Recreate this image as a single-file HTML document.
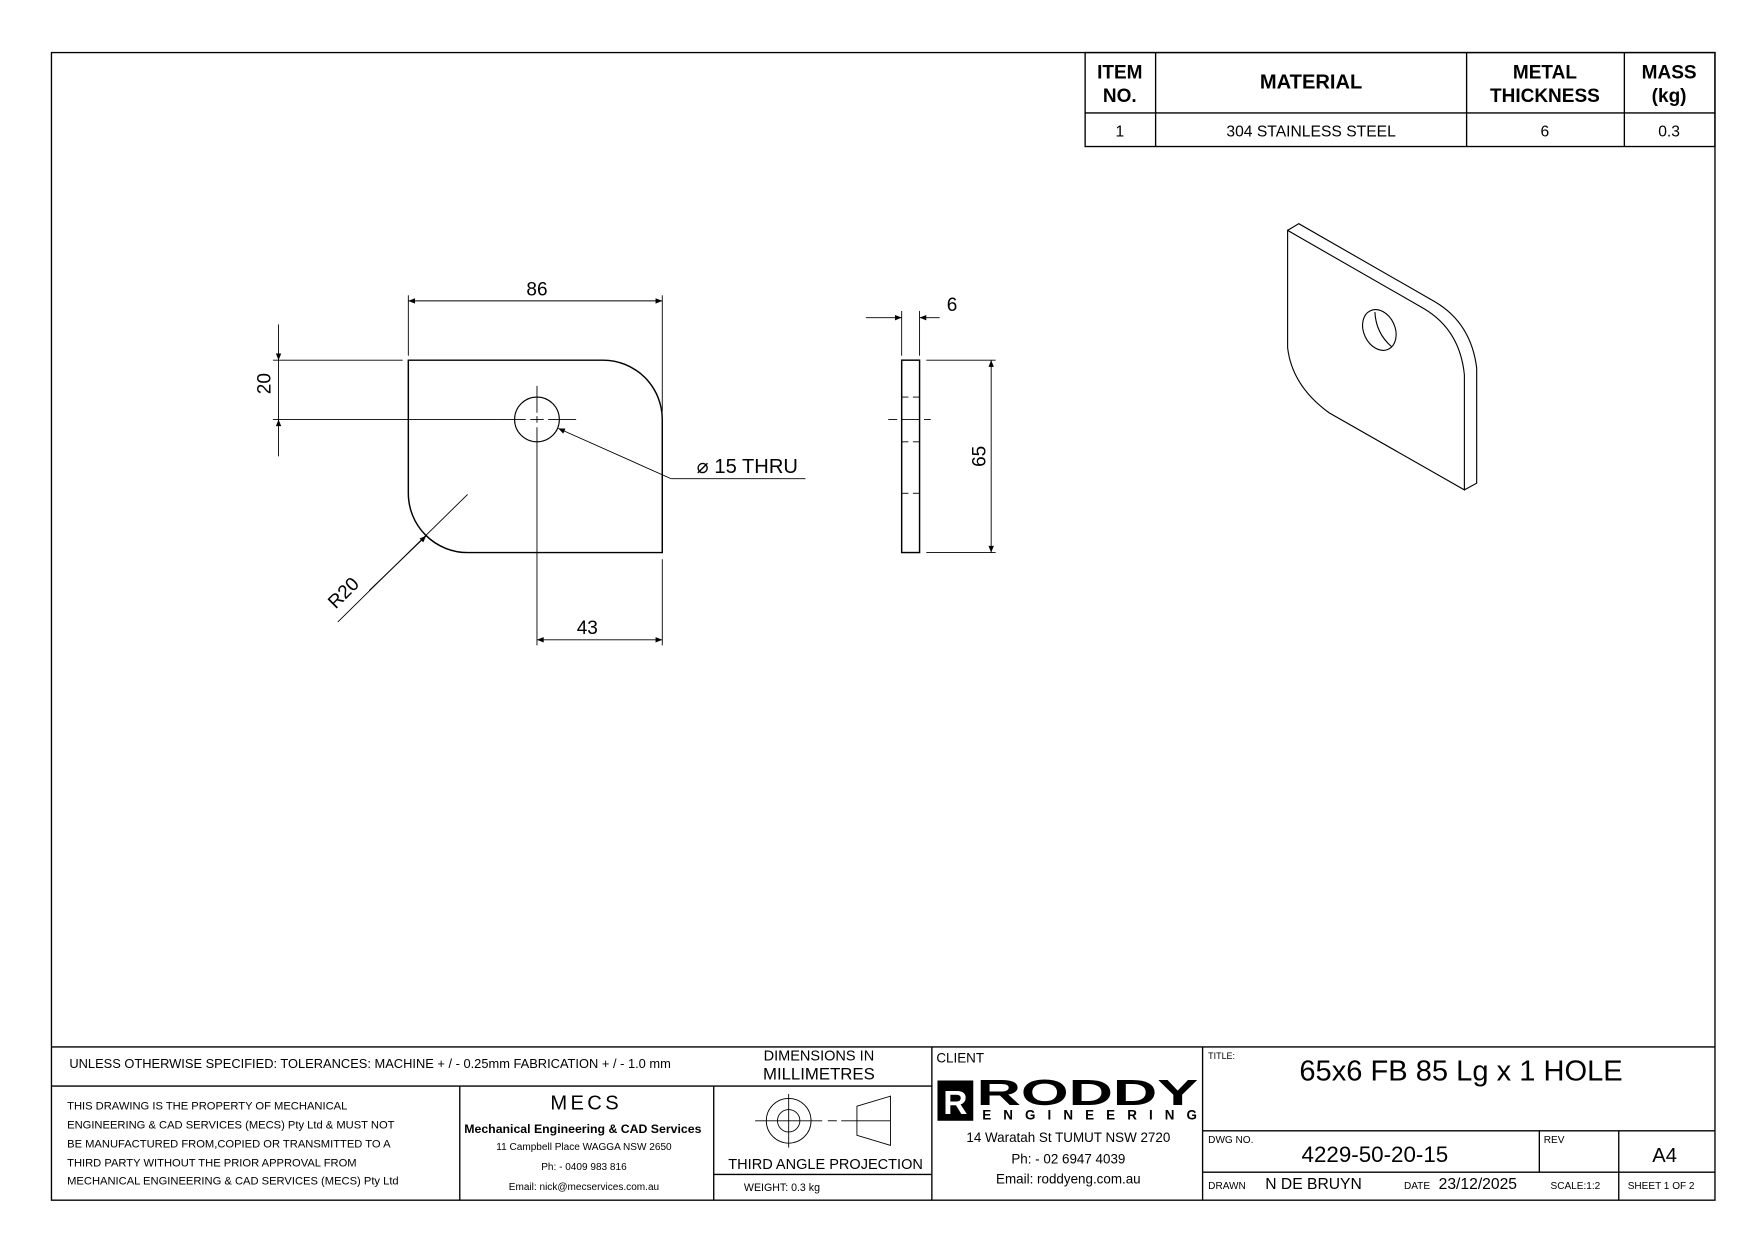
<!DOCTYPE html>
<html><head><meta charset="utf-8"><style>
html,body{margin:0;padding:0;background:#fff;}
svg{display:block;}
text{font-family:"Liberation Sans",sans-serif;fill:#000;}
</style></head><body>
<svg width="1753" height="1240" viewBox="0 0 1567 1108.6" preserveAspectRatio="none" xmlns="http://www.w3.org/2000/svg">
<defs>
<marker id="a" viewBox="0 0 10 10" refX="10" refY="5" markerWidth="12" markerHeight="6" orient="auto-start-reverse" markerUnits="userSpaceOnUse"><path d="M0,1 L10,5 L0,9 z" fill="#000"/></marker>
</defs>
<g fill="none" stroke="#000" stroke-width="1.2">
<rect x="46" y="47" width="1487" height="1026"/>
<rect x="970" y="47" width="563" height="84"/>
<line x1="970" y1="101" x2="1533" y2="101"/>
<line x1="1033" y1="47" x2="1033" y2="131"/>
<line x1="1311" y1="47" x2="1311" y2="131"/>
<line x1="1452" y1="47" x2="1452" y2="131"/>
<line x1="46" y1="936" x2="1533" y2="936"/>
<line x1="46" y1="971" x2="833" y2="971"/>
<line x1="411" y1="971" x2="411" y2="1073"/>
<line x1="638" y1="971" x2="638" y2="1073"/>
<line x1="833" y1="936" x2="833" y2="1073"/>
<line x1="1075" y1="936" x2="1075" y2="1073"/>
<line x1="638" y1="1050" x2="833" y2="1050"/>
<line x1="1075" y1="1011" x2="1533" y2="1011"/>
<line x1="1075" y1="1048" x2="1533" y2="1048"/>
<line x1="1376" y1="1011" x2="1376" y2="1048"/>
<line x1="1447" y1="1011" x2="1447" y2="1073"/>
<circle cx="705" cy="1002" r="20" stroke-width="0.8"/>
<circle cx="705" cy="1002" r="10" stroke-width="0.8"/>
<line x1="675" y1="1002" x2="735" y2="1002" stroke-width="0.8"/>
<line x1="705" y1="978" x2="705" y2="1026" stroke-width="0.8"/>
<line x1="740" y1="1002" x2="748" y2="1002" stroke-width="0.8"/>
<line x1="752" y1="1002" x2="796" y2="1002" stroke-width="0.8"/>
<path d="M766,989 L796,980 L796,1024 L766,1015 Z" stroke-width="0.8"/>
</g>
<g fill="none" stroke="#000" stroke-width="1">
<path d="M365,322 H539 A53,53 0 0 1 592,375 V494 H418 A53,53 0 0 1 365,441 Z" stroke-width="1.3"/>
<circle cx="480" cy="375" r="20"/>
<g stroke-width="0.8">
<line x1="445" y1="375" x2="470" y2="375"/><line x1="474" y1="375" x2="486" y2="375"/><line x1="490" y1="375" x2="515" y2="375"/>
<line x1="480" y1="345" x2="480" y2="369"/><line x1="480" y1="372" x2="480" y2="378"/><line x1="480" y1="382" x2="480" y2="577"/>
<line x1="365" y1="264" x2="365" y2="318"/>
<line x1="592" y1="264" x2="592" y2="368"/>
<line x1="365" y1="269" x2="592" y2="269" marker-start="url(#a)" marker-end="url(#a)"/>
<line x1="244" y1="322" x2="360" y2="322"/>
<line x1="244" y1="375" x2="445" y2="375"/>
<line x1="249" y1="290" x2="249" y2="322" marker-end="url(#a)"/>
<line x1="249" y1="408" x2="249" y2="375" marker-end="url(#a)"/>
<line x1="249" y1="322" x2="249" y2="375"/>
<line x1="720" y1="428" x2="600" y2="428"/>
<line x1="600" y1="428" x2="499" y2="383" marker-end="url(#a)"/>
<line x1="302" y1="556" x2="418" y2="442"/>
<line x1="330" y1="528" x2="381" y2="479" marker-end="url(#a)"/>
<line x1="592" y1="500" x2="592" y2="577"/>
<line x1="480" y1="572" x2="592" y2="572" marker-start="url(#a)" marker-end="url(#a)"/>
</g>
<rect x="806" y="322" width="16" height="172" stroke-width="1.3"/>
<g stroke-width="0.8">
<line x1="806" y1="355" x2="812" y2="355"/><line x1="816" y1="355" x2="822" y2="355"/>
<line x1="806" y1="395" x2="812" y2="395"/><line x1="816" y1="395" x2="822" y2="395"/>
<line x1="806" y1="441" x2="812" y2="441"/><line x1="816" y1="441" x2="822" y2="441"/>
<line x1="794" y1="375" x2="802" y2="375"/><line x1="806" y1="375" x2="822" y2="375"/><line x1="826" y1="375" x2="832" y2="375"/>
<line x1="806" y1="278" x2="806" y2="318"/><line x1="822" y1="278" x2="822" y2="318"/>
<line x1="774" y1="284" x2="806" y2="284" marker-end="url(#a)"/>
<line x1="840" y1="284" x2="822" y2="284" marker-end="url(#a)"/>
<line x1="828" y1="322" x2="890" y2="322"/><line x1="828" y1="494" x2="890" y2="494"/>
<line x1="886" y1="322" x2="886" y2="494" marker-start="url(#a)" marker-end="url(#a)"/>
</g>
<g stroke-width="1">
<path d="M1151,206 L1273,276 Q1305,295 1309,335 L1309,438 L1188,369 Q1155,345 1151,311 Z"/>
<path d="M1151,206 L1161,200 L1283,270 Q1315,289 1320,329 L1320,432 L1309,438"/>
<ellipse cx="1233" cy="295" rx="14" ry="19" transform="rotate(-25 1233 295)"/>
<path d="M1229,279 Q1230,298 1244,310"/>
</g>
</g>
<g font-size="14" text-anchor="middle">
<text x="1001" y="70" font-weight="bold" font-size="17">ITEM</text>
<text x="1001" y="91" font-weight="bold" font-size="17">NO.</text>
<text x="1172" y="79" font-weight="bold" font-size="18">MATERIAL</text>
<text x="1381" y="70" font-weight="bold" font-size="17">METAL</text>
<text x="1381" y="91" font-weight="bold" font-size="17">THICKNESS</text>
<text x="1492" y="70" font-weight="bold" font-size="17">MASS</text>
<text x="1492" y="91" font-weight="bold" font-size="17">(kg)</text>
<text x="1001" y="122">1</text>
<text x="1172" y="122">304 STAINLESS STEEL</text>
<text x="1381" y="122">6</text>
<text x="1492" y="122">0.3</text>
<text x="480" y="264" font-size="17">86</text>
<text x="851" y="278" font-size="17">6</text>
<text x="525" y="567" font-size="17">43</text>
<text x="668" y="423" font-size="18">⌀ 15 THRU</text>
<text transform="translate(242,343) rotate(-90)" font-size="17">20</text>
<text transform="translate(881,408) rotate(-90)" font-size="17">65</text>
<text transform="translate(311,534) rotate(-45)" font-size="17">R20</text>
</g>
<g font-size="11">
<text x="62" y="955" font-size="11.5">UNLESS OTHERWISE SPECIFIED: TOLERANCES: MACHINE + / - 0.25mm  FABRICATION + / - 1.0 mm</text>
<text x="60" y="992" font-size="10">THIS DRAWING IS THE PROPERTY OF MECHANICAL</text>
<text x="60" y="1009" font-size="10">ENGINEERING &amp; CAD SERVICES (MECS) Pty Ltd &amp; MUST NOT</text>
<text x="60" y="1026" font-size="10">BE MANUFACTURED FROM,COPIED OR TRANSMITTED TO A</text>
<text x="60" y="1043" font-size="10">THIRD PARTY WITHOUT THE PRIOR APPROVAL FROM</text>
<text x="60" y="1059" font-size="10">MECHANICAL ENGINEERING &amp; CAD SERVICES (MECS) Pty Ltd</text>
<text x="665" y="1065" font-size="9.5">WEIGHT: 0.3 kg</text>
<text x="837" y="950" font-size="12">CLIENT</text>
<text x="1080" y="947" font-size="8">TITLE:</text>
<text x="1080" y="1022" font-size="9">DWG NO.</text>
<text x="1380" y="1022" font-size="9">REV</text>
<text x="1080" y="1063" font-size="9">DRAWN</text>
<text x="1131" y="1063" font-size="14">N DE BRUYN</text>
<text x="1255" y="1063" font-size="9">DATE</text>
<text x="1286" y="1063" font-size="14">23/12/2025</text>
<text x="1386" y="1063" font-size="9">SCALE:1:2</text>
<text x="1455" y="1063" font-size="9">SHEET 1 OF 2</text>
</g>
<g text-anchor="middle">
<text x="732" y="948" font-size="13">DIMENSIONS IN</text>
<text x="732" y="965" font-size="15">MILLIMETRES</text>
<text x="524" y="992" font-size="18" letter-spacing="3">MECS</text>
<text x="521" y="1013" font-size="11" font-weight="bold">Mechanical Engineering &amp; CAD Services</text>
<text x="522" y="1028" font-size="9">11 Campbell Place WAGGA NSW 2650</text>
<text x="522" y="1046" font-size="9">Ph: - 0409 983 816</text>
<text x="522" y="1064" font-size="9">Email: nick@mecservices.com.au</text>
<text x="738" y="1045" font-size="13">THIRD ANGLE PROJECTION</text>
<text x="955" y="1021" font-size="12">14 Waratah St TUMUT NSW 2720</text>
<text x="955" y="1040" font-size="12">Ph: - 02 6947 4039</text>
<text x="955" y="1058" font-size="12">Email: roddyeng.com.au</text>
<text x="1306" y="966" font-size="26">65x6 FB 85 Lg x 1 HOLE</text>
<text x="1229" y="1039" font-size="20">4229-50-20-15</text>
<text x="1488" y="1039" font-size="18">A4</text>
</g>
<rect x="838" y="966" width="32" height="36" fill="#000"/>
<text x="854" y="996" font-size="30" font-weight="bold" text-anchor="middle" style="fill:#fff">R</text>
<text x="873" y="988" font-size="32" font-weight="bold" textLength="198" lengthAdjust="spacingAndGlyphs">RODDY</text>
<text x="878" y="1001" font-size="12" font-weight="bold" textLength="192" lengthAdjust="spacing">ENGINEERING</text>
</svg>
</body></html>
